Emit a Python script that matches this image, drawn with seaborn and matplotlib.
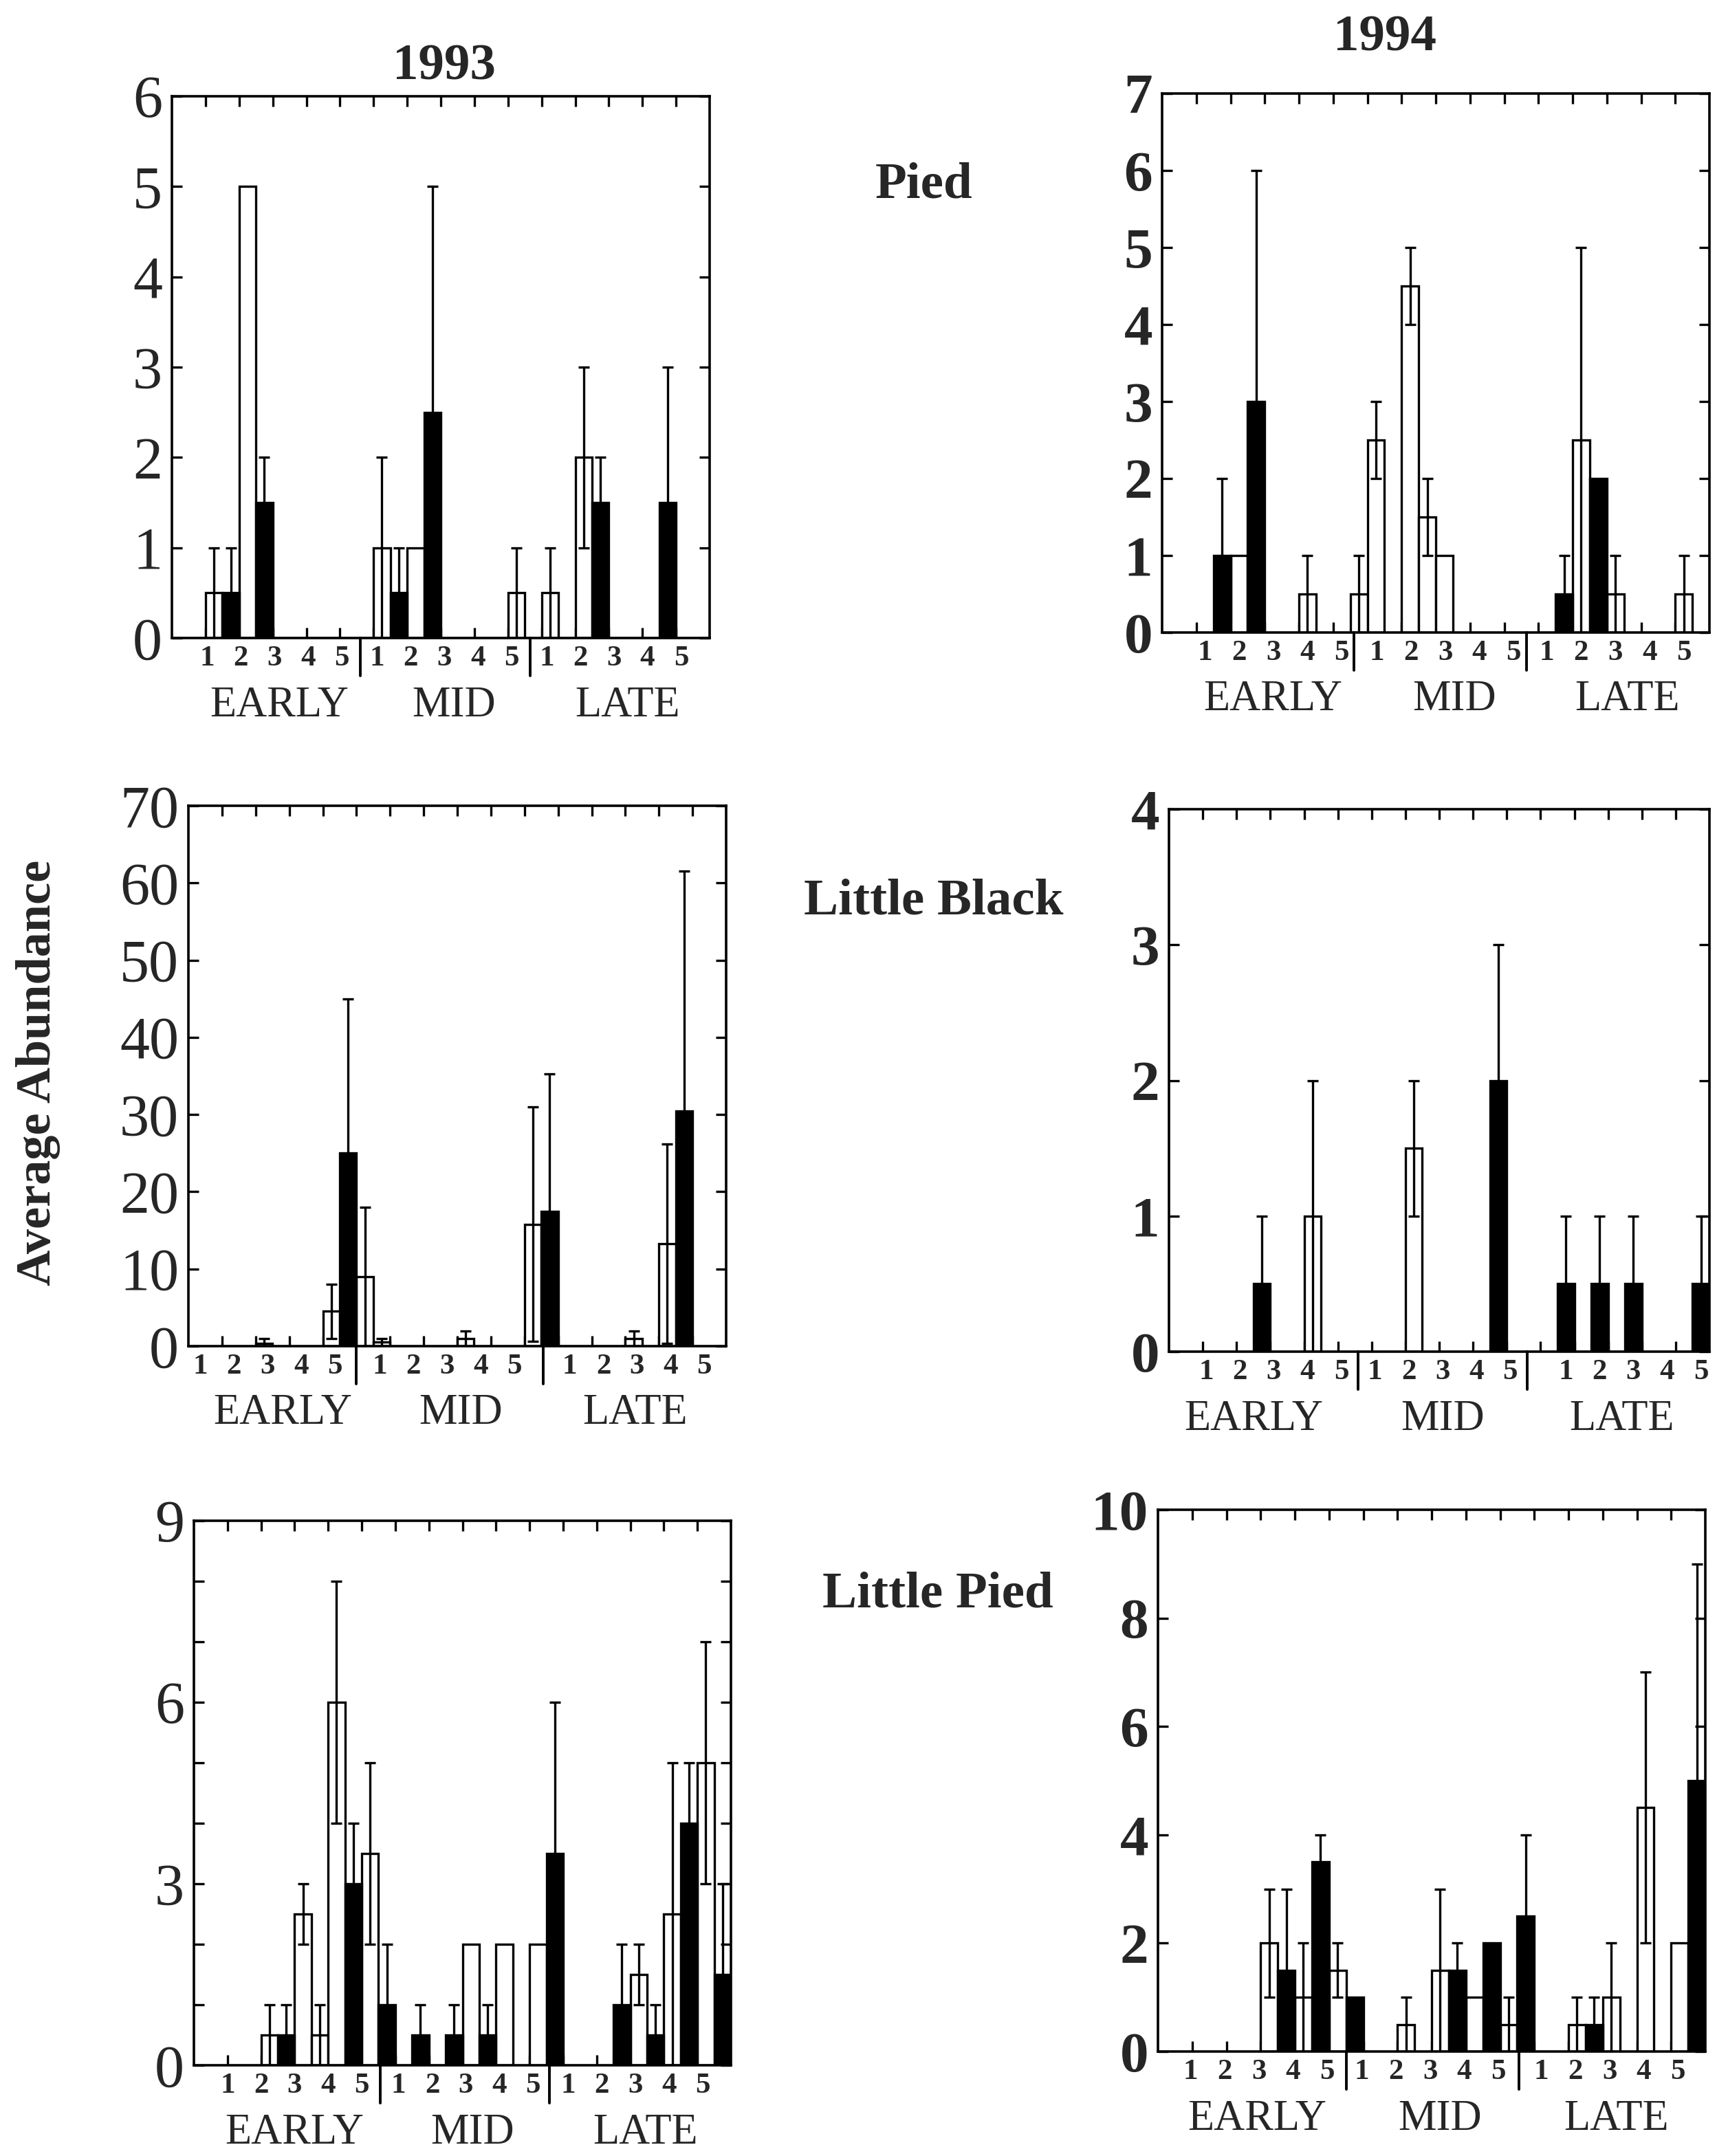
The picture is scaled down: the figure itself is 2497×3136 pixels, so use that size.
import numpy as np
import pandas as pd
import matplotlib
matplotlib.use("Agg")
import matplotlib.pyplot as plt
import matplotlib.transforms as mtransforms
import seaborn as sns

# ------------------------------------------------------------------ data
# Each panel: 15 sites (EARLY 1-5, MID 1-5, LATE 1-5), two adjacent bars per site
# -> 30 bars listed left to right, 10 per period.
# FILL: 'o' = open bar, 'f' = filled bar, '-' = no bar.  SE = error bar half-length.
PERIODS = ["EARLY", "MID", "LATE"]
SITES = ["1", "2", "3", "4", "5"]
YEARS = ["1993", "1994"]
SPECIES = ["Pied", "Little Black", "Little Pied"]

PIED_1993_MEAN = [0.5, 0.5, 5, 1.5, 0, 0, 0, 0, 0, 0,
                  1, 0.5, 1, 2.5, 0, 0, 0, 0, 0.5, 0,
                  0.5, 0, 2, 1.5, 0, 0, 0, 1.5, 0, 0]
PIED_1993_SE = [0.5, 0.5, 0, 0.5, 0, 0, 0, 0, 0, 0,
                1, 0.5, 0, 2.5, 0, 0, 0, 0, 0.5, 0,
                0.5, 0, 1, 0.5, 0, 0, 0, 1.5, 0, 0]
PIED_1993_FILL = "ofof------" + "ofof----o-" + "o-of---f--"

PIED_1994_MEAN = [0, 1, 1, 3, 0, 0, 0.5, 0, 0, 0.5,
                  2.5, 0, 4.5, 1.5, 1, 0, 0, 0, 0, 0,
                  0, 0.5, 2.5, 2, 0.5, 0, 0, 0, 0.5, 0]
PIED_1994_SE = [0, 1, 0, 3, 0, 0, 0.5, 0, 0, 0.5,
                0.5, 0, 0.5, 0.5, 0, 0, 0, 0, 0, 0,
                0, 0.5, 2.5, 0, 0.5, 0, 0, 0, 0.5, 0]
PIED_1994_FILL = "-fof--o--o" + "o-ooo-----" + "-fofo---o-"

LBLACK_1993_MEAN = [0, 0, 0.4, 0, 0, 0, 4.5, 25, 9, 0.5,
                    0, 0, 0, 0, 1, 0, 0, 0, 15.8, 17.5,
                    0, 0, 0, 0, 1, 0, 13.3, 30.5, 0, 0]
LBLACK_1993_SE = [0, 0, 0.6, 0, 0, 0, 3.5, 20, 9, 0.5,
                  0, 0, 0, 0, 1, 0, 0, 0, 15.2, 17.8,
                  0, 0, 0, 0, 1, 0, 12.9, 31, 0, 0]
LBLACK_1993_FILL = "--o---ofoo" + "----o---of" + "----o-of--"

LBLACK_1994_MEAN = [0, 0, 0, 0.5, 0, 0, 1, 0, 0, 0,
                    0, 0, 1.5, 0, 0, 0, 0, 2, 0, 0,
                    0, 0.5, 0, 0.5, 0, 0.5, 0, 0, 0, 0.5]
LBLACK_1994_SE = [0, 0, 0, 0.5, 0, 0, 1, 0, 0, 0,
                  0, 0, 0.5, 0, 0, 0, 0, 1, 0, 0,
                  0, 0.5, 0, 0.5, 0, 0.5, 0, 0, 0, 0.5]
LBLACK_1994_FILL = "---f--o---" + "--o----f--" + "-f-f-f---f"

LPIED_1993_MEAN = [0, 0, 0.5, 0.5, 2.5, 0.5, 6, 3, 3.5, 1,
                   0, 0.5, 0, 0.5, 2, 0.5, 2, 0, 2, 3.5,
                   0, 0, 0, 1, 1.5, 0.5, 2.5, 4, 5, 1.5]
LPIED_1993_SE = [0, 0, 0.5, 0.5, 0.5, 0.5, 2, 1, 1.5, 1,
                 0, 0.5, 0, 0.5, 0, 0.5, 0, 0, 0, 2.5,
                 0, 0, 0, 1, 0.5, 0.5, 2.5, 1, 2, 1.5]
LPIED_1993_FILL = "--ofooofof" + "-f-fofo-of" + "---fofofof"

LPIED_1994_MEAN = [0, 0, 0, 0, 2, 1.5, 1, 3.5, 1.5, 1,
                   0, 0, 0.5, 0, 1.5, 1.5, 1, 2, 0.5, 2.5,
                   0, 0, 0.5, 0.5, 1, 0, 4.5, 0, 2, 5]
LPIED_1994_SE = [0, 0, 0, 0, 1, 1.5, 1, 0.5, 0.5, 0,
                 0, 0, 0.5, 0, 1.5, 0.5, 0, 0, 0.5, 1.5,
                 0, 0, 0.5, 0.5, 1, 0, 2.5, 0, 0, 4]
LPIED_1994_FILL = "----ofofof" + "--o-ofofof" + "--ofo-o-of"

Y_TICKS = {
    (0, 0): ([0, 1, 2, 3, 4, 5, 6], ["0", "1", "2", "3", "4", "5", "6"]),
    (0, 1): ([0, 1, 2, 3, 4, 5, 6, 7], ["0", "1", "2", "3", "4", "5", "6", "7"]),
    (1, 0): ([0, 10, 20, 30, 40, 50, 60, 70], ["0", "10", "20", "30", "40", "50", "60", "70"]),
    (1, 1): ([0, 1, 2, 3, 4], ["0", "1", "2", "3", "4"]),
    (2, 0): ([0, 1, 2, 3, 4, 5, 6, 7, 8, 9], ["0", "", "", "3", "", "", "6", "", "", "9"]),
    (2, 1): ([0, 2, 4, 6, 8, 10], ["0", "2", "4", "6", "8", "10"]),
}

DATA = {
    (0, 0): (PIED_1993_MEAN, PIED_1993_SE, PIED_1993_FILL),
    (0, 1): (PIED_1994_MEAN, PIED_1994_SE, PIED_1994_FILL),
    (1, 0): (LBLACK_1993_MEAN, LBLACK_1993_SE, LBLACK_1993_FILL),
    (1, 1): (LBLACK_1994_MEAN, LBLACK_1994_SE, LBLACK_1994_FILL),
    (2, 0): (LPIED_1993_MEAN, LPIED_1993_SE, LPIED_1993_FILL),
    (2, 1): (LPIED_1994_MEAN, LPIED_1994_SE, LPIED_1994_FILL),
}

# ------------------------------------------------------------------ layout
W, H = 2497, 3136
BOXES = {  # pixel box: left, top, right, bottom
    (0, 0): (250, 140, 1032, 928),
    (0, 1): (1690, 136, 2486, 920),
    (1, 0): (274, 1172, 1056, 1958),
    (1, 1): (1700, 1177, 2486, 1966),
    (2, 0): (282, 2212, 1063, 3004),
    (2, 1): (1684, 2196, 2480, 2984),
}
# positions in slot units (32 slots across the axis)
LABEL_STARTS = {
    (0, 0): (2.1, 12.2, 22.3), (0, 1): (2.5, 12.55, 22.5),
    (1, 0): (0.7, 11.4, 22.7), (1, 1): (2.2, 12.2, 23.5),
    (2, 0): (2.0, 12.2, 22.3), (2, 1): (1.9, 11.9, 22.4),
}
DIVIDERS = {
    (0, 0): (11.2, 21.3), (0, 1): (11.2, 21.3), (1, 0): (10.0, 21.1),
    (1, 1): (11.2, 21.2), (2, 0): (11.1, 21.2), (2, 1): (11.0, 21.1),
}
GROUP_CENTERS = {
    (0, 0): (6.4, 16.8, 27.1), (0, 1): (6.5, 17.1, 27.2), (1, 0): (5.6, 16.2, 26.6),
    (1, 1): (5.0, 16.2, 26.8), (2, 0): (6.0, 16.6, 26.9), (2, 1): (5.8, 16.5, 26.8),
}

sns.set_theme(style="ticks")
plt.rcParams["font.family"] = ["Liberation Serif", "DejaVu Serif"]
plt.rcParams["axes.linewidth"] = 2.4

fig = plt.figure(figsize=(W / 100, H / 100), dpi=100)
fig.patch.set_facecolor("white")

N_SLOTS = 32
order = [f"s{i:02d}" for i in range(N_SLOTS)]

for key, (mean, se, fill) in DATA.items():
    r, c = key
    l, t, rr, b = BOXES[key]
    ax = fig.add_axes([l / W, 1 - b / H, (rr - l) / W, (b - t) / H])
    ax.set_facecolor("white")

    slots = np.arange(2, 2 + len(mean))
    df = pd.DataFrame({
        "slot": [f"s{s:02d}" for s in slots],
        "pos": slots,
        "mean": mean,
        "se": se,
        "fill": list(fill),
    })
    df = df[df["fill"] != "-"].copy()
    df["kind"] = df["fill"].map({"o": "open", "f": "filled"})

    sns.barplot(data=df, x="slot", y="mean", hue="kind", order=order,
                hue_order=["open", "filled"],
                palette={"open": "white", "filled": "black"},
                dodge=False, width=1.0, edgecolor="black", linewidth=2.4,
                errorbar=None, legend=False, saturation=1, ax=ax)

    e = df[df["se"] > 0]
    ax.errorbar(e["pos"], e["mean"], yerr=e["se"], fmt="none", ecolor="black",
                elinewidth=2.4, capsize=6, capthick=2.4, zorder=5)

    yt, yl = Y_TICKS[key]
    ax.set_xlim(-0.5, N_SLOTS - 0.5)
    ax.set_ylim(0, yt[-1])
    ax.set_xlabel("")
    ax.set_ylabel("")
    ax.set_xticks(np.arange(1.5, 30.0, 2.0))
    ax.set_xticklabels([])
    ax.set_yticks(yt)
    if c == 1:
        ax.set_yticklabels(yl, fontsize=60, fontweight="bold")
    else:
        ax.set_yticklabels(yl, fontsize=62, fontweight="normal")
    ax.tick_params(axis="both", direction="in", top=True, right=True,
                   length=11, width=2.4, color="black", pad=10)
    for sp in ax.spines.values():
        sp.set_visible(True)
        sp.set_color("black")
        sp.set_linewidth(2.6)

    trans = mtransforms.blended_transform_factory(ax.transData, ax.transAxes)
    for g, start in enumerate(LABEL_STARTS[key]):
        for j, s in enumerate(SITES):
            ax.text(start - 0.5 + 2 * j, -0.038, s, transform=trans,
                    ha="center", va="center", fontsize=31, fontweight="bold")
    for g, cx in enumerate(GROUP_CENTERS[key]):
        ax.text(cx - 0.5, -0.125, PERIODS[g], transform=trans,
                ha="center", va="center", fontsize=45)
    for d in DIVIDERS[key]:
        ax.plot([d - 0.5, d - 0.5], [0, -0.07], transform=trans, color="black",
                lw=2.8, clip_on=False)

# titles and row labels
fig.text(646 / W, 1 - 98 / H, YEARS[0], ha="center", va="center",
         fontsize=54, fontweight="bold")
fig.text(2014 / W, 1 - 56 / H, YEARS[1], ha="center", va="center",
         fontsize=54, fontweight="bold")
for name, (x, y) in zip(SPECIES, [(1344, 270), (1358, 1312), (1364, 2320)]):
    fig.text(x / W, 1 - y / H, name, ha="center", va="center",
             fontsize=54, fontweight="bold")
fig.text(56 / W, 1 - 1560 / H, "Average Abundance", rotation=90,
         ha="center", va="center", fontsize=52, fontweight="bold")

fig.savefig("out.png", dpi=100, facecolor="white")
